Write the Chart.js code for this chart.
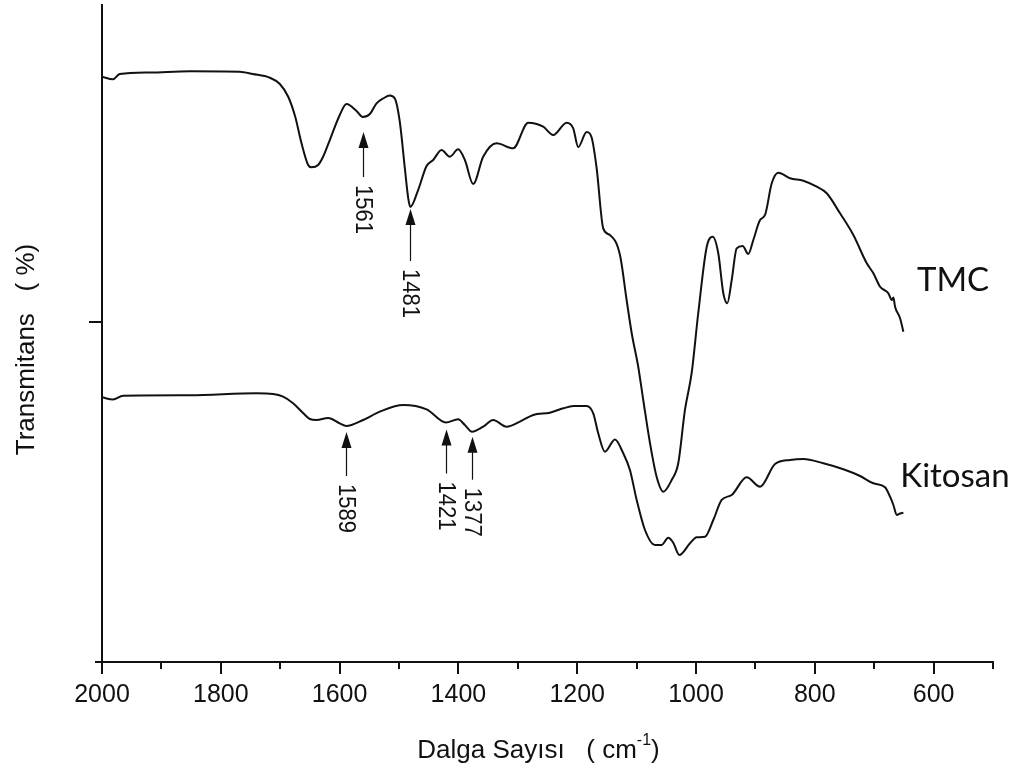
<!DOCTYPE html>
<html>
<head>
<meta charset="utf-8">
<script src="https://cdn.jsdelivr.net/npm/chart.js@4.4.1/dist/chart.umd.min.js"></script>
<style>
  html, body { margin: 0; padding: 0; background: #fff; }
  #wrap { width: 1022px; height: 773px; }
</style>
</head>
<body>
<div id="wrap"><canvas id="ftir" width="1022" height="773"></canvas></div>
<script>
// FTIR spectra: wavenumber (cm-1) and relative transmittance (arbitrary offset units)
const tmcWavenumber = [
  2000, 1981.5, 1970.2, 1919.7, 1852.3, 1768.1, 1746.2, 1717.5, 1700.6, 1686.5,
  1674.7, 1664.1, 1653, 1647.3, 1636.2, 1627.8, 1616.5, 1599.7, 1588.4, 1571.5,
  1561, 1549.1, 1537.8, 1526.7, 1515.4, 1507, 1498.6, 1490.2, 1484.5, 1481,
  1467.8, 1453.6, 1442.5, 1428.4, 1414.4, 1400.4, 1389.1, 1375.1, 1358.3, 1335.7,
  1307.7, 1282.5, 1257.2, 1240.4, 1217.8, 1206.7, 1198.3, 1184.1, 1175.7, 1167.3,
  1156.2, 1144.9, 1128, 1116.8, 1108.3, 1097.2, 1088.8, 1077.5, 1066.2, 1055.1,
  1041, 1029.8, 1018.6, 1007.3, 996.2, 982, 971.9, 962.5, 954, 947.3,
  939.9, 931.5, 921.4, 912, 903.5, 892.2, 883.8, 872.5, 861.4, 841.7,
  819.3, 796.7, 779.9, 757.5, 735.1, 712.5, 701.4, 690.1, 676.1, 670.4,
  667.7, 664.9, 656.4, 650.9
];
const tmcTransmittance = [
  89.09, 88.69, 89.5, 89.73, 89.91, 89.85, 89.5, 88.93, 87.98, 86.04,
  83.0, 78.95, 75.65, 75.3, 75.65, 76.91, 79.45, 83.26, 84.93, 83.87,
  82.95, 83.41, 85.04, 85.77, 86.23, 85.77, 82.19, 75.19, 70.6, 69.25,
  71.84, 75.49, 76.41, 77.93, 76.91, 78.04, 76.41, 72.75, 76.91, 78.95,
  78.19, 82.09, 81.48, 80.21, 82.09, 81.23, 78.39, 80.67, 79.83, 75.19,
  66.01, 64.99, 61.95, 55.1, 50.08, 44.9, 39.88, 33.33, 28.16, 25.92,
  27.7, 30.29, 38.36, 43.99, 53.12, 63.17, 64.73, 62.21, 56.12, 54.6,
  58.14, 62.97, 63.32, 62.1, 64.23, 67.28, 68.04, 72.86, 74.47, 73.62,
  73.26, 72.34, 71.34, 68.29, 64.99, 60.68, 59.16, 57.12, 56.12, 55.1,
  55.48, 54.08, 52.31, 50.27
];

const kitosanWavenumber = [
  2000, 1981.5, 1964.6, 1852.3, 1740, 1712, 1695.1, 1678.3, 1661.5, 1650.2,
  1638.9, 1619.4, 1599.7, 1589, 1560.4, 1532.3, 1493, 1453.6, 1421, 1400.4,
  1389.1, 1377, 1358.3, 1341.4, 1318.9, 1296.5, 1274.1, 1246, 1223.5, 1206.7,
  1184.1, 1173, 1164.6, 1153.3, 1136.5, 1122.5, 1111.2, 1099.9, 1085.9, 1069.1,
  1057.8, 1046.7, 1038.3, 1028.1, 1010.1, 998.9, 984.9, 970.9, 956.8, 939.9,
  914.7, 892.2, 867, 841.7, 819.3, 785.6, 751.9, 723.8, 701.4, 681.7,
  673.3, 667.7, 662, 656.4, 650.9
];
const kitosanTransmittance = [
  40.29, 39.95, 40.53, 40.59, 40.9, 40.79, 40.38, 39.38, 37.9, 36.99,
  36.83, 37.14, 36.33, 35.92, 36.83, 38.1, 39.12, 38.46, 36.45, 36.94,
  36.07, 35.05, 35.81, 36.83, 35.81, 36.58, 37.6, 37.95, 38.61, 38.96,
  38.96, 37.85, 34.81, 32.01, 33.87, 31.77, 29.22, 24.66, 20.09, 17.81,
  17.81, 18.92, 18.16, 16.29, 18.07, 18.98, 19.07, 21.61, 24.66, 25.42,
  28.11, 26.68, 30.14, 30.75, 30.9, 30.24, 29.33, 28.31, 27.2, 26.59,
  25.16, 23.9, 22.37, 22.6, 22.72
];

// Marked absorption bands (cm-1) per spectrum
const tmcBands = [1561, 1481];
const kitosanBands = [1589, 1421, 1377];

// Axis ranges and ticks
const xRange = [500, 2000];
const xMajorStep = 200;
const xMinorStep = 100;
const yRange = [0, 100];
const yTickValues = [51.7];

const seriesNames = ['TMC', 'Kitosan'];

const toPoints = (xs, ys) => xs.map((x, i) => ({ x, y: ys[i] }));

const AXIS_FONT = "'Liberation Sans', Arial, Helvetica, sans-serif";
const INK = '#111111';

// linear lookup of a spectrum value at a given wavenumber
function valueAt(xs, ys, w) {
  for (let i = 0; i < xs.length - 1; i++) {
    const a = xs[i], b = xs[i + 1];
    if ((w <= a && w >= b) || (w >= a && w <= b)) {
      const t = (w - a) / (b - a);
      return ys[i] + t * (ys[i + 1] - ys[i]);
    }
  }
  return ys[ys.length - 1];
}

// Tick marks: long at labelled majors, short at minors
const tickMarks = {
  id: 'tickMarks',
  afterDraw(chart) {
    const { ctx, chartArea } = chart;
    const xs = chart.scales.x, ys = chart.scales.y;
    ctx.save();
    ctx.strokeStyle = INK;
    ctx.lineWidth = 2;
    ctx.beginPath();
    xs.ticks.forEach(t => {
      const px = Math.round(xs.getPixelForValue(t.value));
      const len = (t.value % xMajorStep === 0) ? 12 : 7;
      ctx.moveTo(px, chartArea.bottom);
      ctx.lineTo(px, chartArea.bottom + len);
    });
    // x axis line runs a little past the y axis
    ctx.moveTo(chartArea.left - 7, chartArea.bottom);
    ctx.lineTo(chartArea.left, chartArea.bottom);
    ys.ticks.forEach(t => {
      const py = Math.round(ys.getPixelForValue(t.value));
      ctx.moveTo(chartArea.left - 13, py);
      ctx.lineTo(chartArea.left, py);
    });
    ctx.stroke();
    ctx.restore();
  }
};

// Axis titles (x title carries a superscript)
const axisTitles = {
  id: 'axisTitles',
  afterDraw(chart) {
    const { ctx, chartArea } = chart;
    ctx.save();
    ctx.fillStyle = INK;
    ctx.textBaseline = 'alphabetic';
    // x title
    const main = 'Dalga Sayısı   ( cm';
    const sup = '-1';
    const tail = ')';
    ctx.font = `26px ${AXIS_FONT}`;
    const wMain = ctx.measureText(main).width;
    const wTail = ctx.measureText(tail).width;
    ctx.font = `16px ${AXIS_FONT}`;
    const wSup = ctx.measureText(sup).width;
    const total = wMain + wSup + wTail;
    let x0 = (chartArea.left + chartArea.right) / 2 - total / 2 - 9;
    const base = 758;
    ctx.font = `26px ${AXIS_FONT}`;
    ctx.textAlign = 'left';
    ctx.fillText(main, x0, base);
    ctx.font = `16px ${AXIS_FONT}`;
    ctx.fillText(sup, x0 + wMain, base - 13);
    ctx.font = `26px ${AXIS_FONT}`;
    ctx.fillText(tail, x0 + wMain + wSup, base);
    // y title
    ctx.translate(34, (chartArea.top + chartArea.bottom) / 2 + 16);
    ctx.rotate(-Math.PI / 2);
    ctx.textAlign = 'center';
    ctx.font = `26px ${AXIS_FONT}`;
    ctx.fillText('Transmitans   ( %)', 0, 0);
    ctx.restore();
  }
};

// Band arrows with vertical wavenumber labels, and spectrum names
const bandMarkers = {
  id: 'bandMarkers',
  afterDatasetsDraw(chart, args, opts) {
    const { ctx } = chart;
    const xs = chart.scales.x, ys = chart.scales.y;
    ctx.save();
    ctx.fillStyle = INK;
    ctx.strokeStyle = INK;
    opts.marks.forEach(m => {
      const src = m.series === 'TMC'
        ? [tmcWavenumber, tmcTransmittance]
        : [kitosanWavenumber, kitosanTransmittance];
      const v = valueAt(src[0], src[1], m.band);
      const px = Math.round(xs.getPixelForValue(m.band)) + 0.5;
      const tip = ys.getPixelForValue(v) + m.gap;
      const headH = 16, headW = 5;
      // head
      ctx.beginPath();
      ctx.moveTo(px, tip);
      ctx.lineTo(px - headW, tip + headH);
      ctx.lineTo(px + headW, tip + headH);
      ctx.closePath();
      ctx.fill();
      // shaft
      ctx.lineWidth = 1.2;
      ctx.beginPath();
      ctx.moveTo(px, tip + headH - 1);
      ctx.lineTo(px, tip + m.length);
      ctx.stroke();
      // label, reading top to bottom
      ctx.save();
      ctx.translate(px - 1, tip + m.length + 8);
      ctx.rotate(Math.PI / 2);
      ctx.scale(1, 1.12);
      ctx.font = `22px ${AXIS_FONT}`;
      ctx.textAlign = 'left';
      ctx.textBaseline = 'middle';
      ctx.fillText(String(m.band), 0, 0);
      ctx.restore();
    });
    // spectrum names
    ctx.font = `33px Lato, 'Open Sans', sans-serif`;
    ctx.textAlign = 'left';
    ctx.textBaseline = 'alphabetic';
    opts.names.forEach(n => {
      ctx.fillText(n.text, xs.getPixelForValue(n.x), ys.getPixelForValue(n.y));
    });
    ctx.restore();
  }
};

const bandMarks = [
  ...tmcBands.map(b => ({ series: 'TMC', band: b })),
  ...kitosanBands.map(b => ({ series: 'Kitosan', band: b }))
];
const arrowGap = [15, 2, 6, 7, 5];
const arrowLength = [45, 52, 44, 44, 43];

new Chart(document.getElementById('ftir'), {
  type: 'line',
  data: {
    datasets: [
      {
        label: seriesNames[0],
        data: toPoints(tmcWavenumber, tmcTransmittance),
        borderColor: INK,
        borderWidth: 2,
        pointRadius: 0,
        cubicInterpolationMode: 'monotone',
        fill: false
      },
      {
        label: seriesNames[1],
        data: toPoints(kitosanWavenumber, kitosanTransmittance),
        borderColor: INK,
        borderWidth: 2,
        pointRadius: 0,
        cubicInterpolationMode: 'monotone',
        fill: false
      }
    ]
  },
  options: {
    responsive: false,
    animation: false,
    devicePixelRatio: 1,
    layout: { padding: { top: 5, right: 29, left: 0, bottom: 0 } },
    plugins: {
      legend: { display: false },
      tooltip: { enabled: false },
      bandMarkers: {
        marks: bandMarks.map((m, i) => ({ ...m, gap: arrowGap[i], length: arrowLength[i] })),
        names: [
          { text: seriesNames[0], x: 628, y: 56.4 },
          { text: seriesNames[1], x: 656, y: 26.7 }
        ]
      }
    },
    scales: {
      x: {
        type: 'linear',
        reverse: true,
        min: xRange[0],
        max: xRange[1],
        afterBuildTicks(scale) {
          const t = [];
          for (let v = xRange[1]; v >= xRange[0]; v -= xMinorStep) t.push({ value: v });
          scale.ticks = t;
        },
        afterFit(scale) { scale.height = 111; },
        grid: { display: false, drawTicks: false },
        border: { display: true, color: INK, width: 2 },
        ticks: {
          autoSkip: false,
          maxRotation: 0,
          padding: 18,
          color: INK,
          font: { family: AXIS_FONT, size: 25 },
          callback: v => (v % xMajorStep === 0 ? String(v) : '')
        }
      },
      y: {
        type: 'linear',
        min: yRange[0],
        max: yRange[1],
        afterBuildTicks(scale) { scale.ticks = yTickValues.map(v => ({ value: v })); },
        afterFit(scale) { scale.width = 102; },
        grid: { display: false, drawTicks: false },
        border: { display: true, color: INK, width: 2 },
        ticks: { display: false }
      }
    }
  },
  plugins: [tickMarks, axisTitles, bandMarkers]
});
</script>
</body>
</html>
